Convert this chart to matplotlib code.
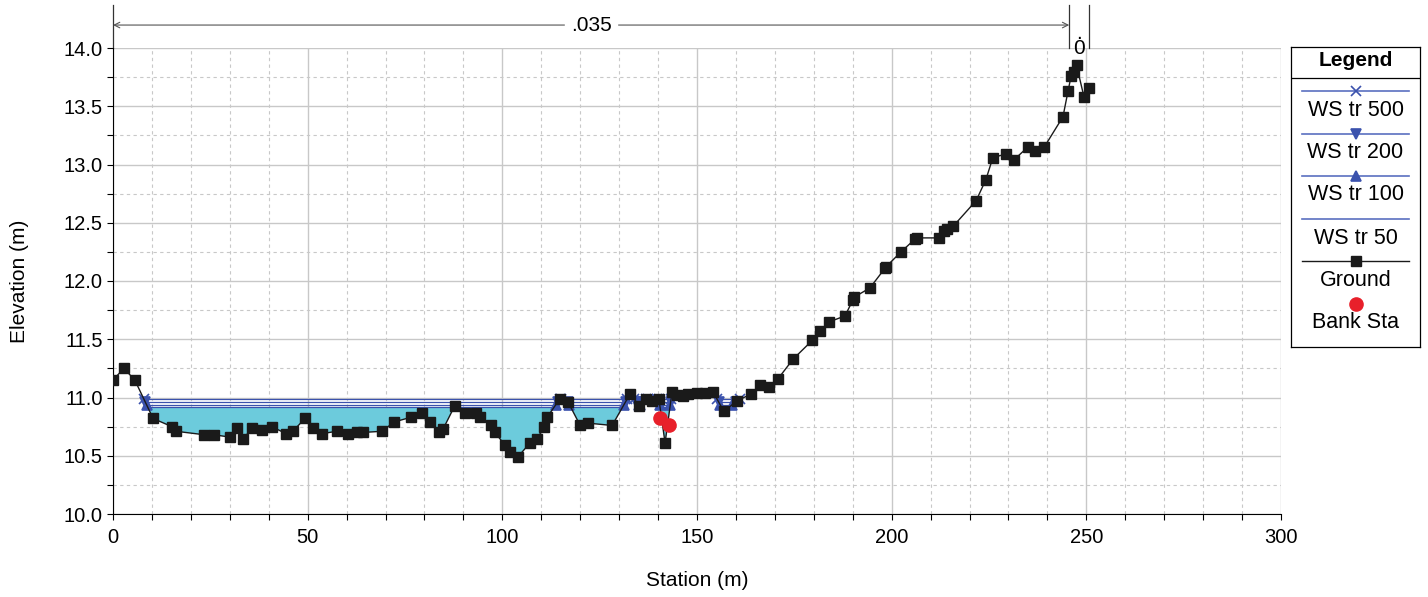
import numpy as np
import matplotlib.pyplot as plt
from matplotlib.ticker import MultipleLocator

plt.rcParams['font.family'] = ['Liberation Sans', 'DejaVu Sans']

# Data
station = [0, 2.8, 5.6, 10.3, 15.1, 16.2, 23.5, 26.0, 30.0, 31.8, 33.4, 35.7, 38.2, 40.8,
           44.4, 46.2, 49.3, 51.4, 53.7, 57.5, 60.4, 62.7, 64.2, 69.1, 72.2, 76.5, 79.4,
           81.4, 83.7, 84.8, 87.8, 90.4, 93.2, 94.3, 97.1, 98.1, 100.7, 102.0, 104.0,
           107.1, 108.9, 110.7, 111.5, 114.8, 116.9, 120.0, 122.0, 128.2, 132.8, 135.2,
           137.0, 138.5, 140.2, 141.8, 143.6, 144.8, 146.4, 147.7, 150.0, 152.0, 154.1,
           156.9, 160.2, 163.9, 166.2, 168.5, 170.8, 174.7, 179.6, 181.6, 184.0, 188.0,
           190.1, 190.3, 194.4, 198.3, 198.5, 202.4, 206.0, 206.5, 212.2, 213.5, 214.2,
           215.8, 221.7, 224.2, 226.0, 229.4, 231.4, 235.0, 236.8, 239.2, 244.0, 245.3,
           246.1, 246.9, 247.5, 249.4, 250.7]
ground = [11.15, 11.25, 11.15, 10.82, 10.75, 10.71, 10.68, 10.68, 10.66, 10.74, 10.64, 10.74,
          10.72, 10.75, 10.69, 10.71, 10.82, 10.74, 10.69, 10.71, 10.69, 10.70, 10.70, 10.71,
          10.79, 10.83, 10.87, 10.79, 10.70, 10.73, 10.93, 10.87, 10.87, 10.83, 10.76, 10.70,
          10.59, 10.53, 10.49, 10.61, 10.64, 10.75, 10.83, 10.99, 10.96, 10.76, 10.78, 10.76,
          11.03, 10.93, 10.99, 10.97, 10.99, 10.61, 11.05, 11.02, 11.01, 11.03, 11.04, 11.04,
          11.05, 10.88, 10.97, 11.03, 11.11, 11.09, 11.16, 11.33, 11.49, 11.57, 11.65, 11.70,
          11.84, 11.86, 11.94, 12.11, 12.12, 12.25, 12.36, 12.37, 12.37, 12.43, 12.45, 12.47,
          12.69, 12.87, 13.06, 13.09, 13.04, 13.15, 13.12, 13.15, 13.41, 13.63, 13.76, 13.79,
          13.85, 13.58, 13.66]

profiles = ["WS tr 500", "WS tr 200", "WS tr 100", "WS tr 50"]
ws_elev = [10.985, 10.962, 10.939, 10.916]
ws_markers = ["x", "v", "^", None]

bank_sta = [140.6, 142.8]
bank_elev = [10.82, 10.76]

n_breaks = [0, 245.6, 250.7]
n_labels = [".035", ".\n0"]

WS_COLOR = "#3b52ad"
WATER = "#6ccbdc"


def wet_segments(x, z, ws):
    # stretches of the ground line that lie below the water surface
    segs = []
    start = None
    for i in range(len(x) - 1):
        x0, x1, z0, z1 = x[i], x[i + 1], z[i], z[i + 1]
        if z0 >= ws and z1 < ws:
            start = x0 + (ws - z0) / (z1 - z0) * (x1 - x0)
        elif z0 < ws and z1 >= ws and start is not None:
            end = x0 + (ws - z0) / (z1 - z0) * (x1 - x0)
            segs.append((start, end))
            start = None
    return segs


fig = plt.figure(figsize=(14.28, 5.97), dpi=100)
ax = fig.add_axes([113 / 1428, 83 / 597, 1168 / 1428, 466 / 597])

st = np.array(station)
gr = np.array(ground)

# water fill up to the lowest profile
ax.fill_between(st, gr, ws_elev[-1], where=gr < ws_elev[-1], interpolate=True,
                color=WATER, lw=0, zorder=2)

for ws, mk in zip(ws_elev, ws_markers):
    for a, b in wet_segments(station, ground, ws):
        ax.plot([a, b], [ws, ws], color=WS_COLOR, lw=0.9, zorder=3)
        if mk:
            ax.plot([a, b], [ws, ws], ls="none", marker=mk, color=WS_COLOR,
                    ms=6.5, mew=1.2, zorder=3)

ax.plot(st, gr, color="#1a1a1a", lw=1.0, marker="s", ms=7.5, zorder=4)
ax.plot(bank_sta, bank_elev, ls="none", marker="o", color="#e8202a", ms=9.5, zorder=5)

ax.set_xlim(0, 300)
ax.set_ylim(10, 14)
ax.xaxis.set_major_locator(MultipleLocator(50))
ax.xaxis.set_minor_locator(MultipleLocator(10))
ax.yaxis.set_major_locator(MultipleLocator(0.5))
ax.yaxis.set_minor_locator(MultipleLocator(0.25))
ax.yaxis.set_major_formatter(plt.FormatStrFormatter("%.1f"))
ax.grid(which="major", color="#c8c8c8", lw=1.0, ls="-", zorder=0)
ax.grid(which="minor", color="#c8c8c8", lw=0.8, ls=(0, (3, 3)), zorder=0)
ax.set_axisbelow(True)
ax.tick_params(which="both", direction="out", length=4, width=0.8, labelsize=14.5)
ax.tick_params(axis="x", pad=6)
for s in ["top", "right"]:
    ax.spines[s].set_visible(False)
ax.set_xlabel("Station (m)", fontsize=15)
ax.set_ylabel("Elevation (m)", fontsize=15)
ax.xaxis.set_label_coords(0.5, -0.122)
ax.yaxis.set_label_coords(-0.072, 0.5)

# Manning's n annotation above the plot
y_top, y_arrow = 14.37, 14.197
for b in n_breaks:
    ax.plot([b, b], [14.0, y_top], color="#333333", lw=0.9, clip_on=False)
ax.annotate("", xy=(n_breaks[0], y_arrow), xytext=(n_breaks[1], y_arrow),
            arrowprops=dict(arrowstyle="<->", color="#555555", lw=0.8,
                            shrinkA=0, shrinkB=0), annotation_clip=False)
ax.text((n_breaks[0] + n_breaks[1]) / 2, y_arrow, n_labels[0], ha="center", va="center",
        fontsize=15, backgroundcolor="white", clip_on=False)
ax.text((n_breaks[1] + n_breaks[2]) / 2, 14.06, n_labels[1], ha="center", va="center",
        fontsize=15, linespacing=0.75, clip_on=False)

# Legend box
lg = fig.add_axes([1291 / 1428, 250 / 597, 129 / 1428, 300 / 597])
lg.set_xlim(0, 129)
lg.set_ylim(300, 0)
lg.set_xticks([])
lg.set_yticks([])
for s in lg.spines.values():
    s.set_linewidth(0.9)
lg.text(64.5, 14, "Legend", ha="center", va="center", fontsize=15, fontweight="bold")
lg.plot([0, 129], [31, 31], color="black", lw=0.9)
line_y = [44, 87, 129, 172]
label_y = [63, 105, 148, 191]
for name, mk, ly, ty in zip(profiles, ws_markers, line_y, label_y):
    lg.plot([11, 118], [ly, ly], color="#5a6fc0", lw=1.2)
    if mk:
        lg.plot([64.5], [ly], marker=mk, color=WS_COLOR, ms=6.5, mew=1.2)
    lg.text(64.5, ty, name, ha="center", va="center", fontsize=15.5)
lg.plot([11, 118], [214, 214], color="#1a1a1a", lw=1.0)
lg.plot([64.5], [214], marker="s", color="#1a1a1a", ms=7.5)
lg.text(64.5, 233, "Ground", ha="center", va="center", fontsize=15.5)
lg.plot([64.5], [257], marker="o", color="#e8202a", ms=9.5)
lg.text(64.5, 276, "Bank Sta", ha="center", va="center", fontsize=15.5)

fig.savefig("out.png", dpi=100)
